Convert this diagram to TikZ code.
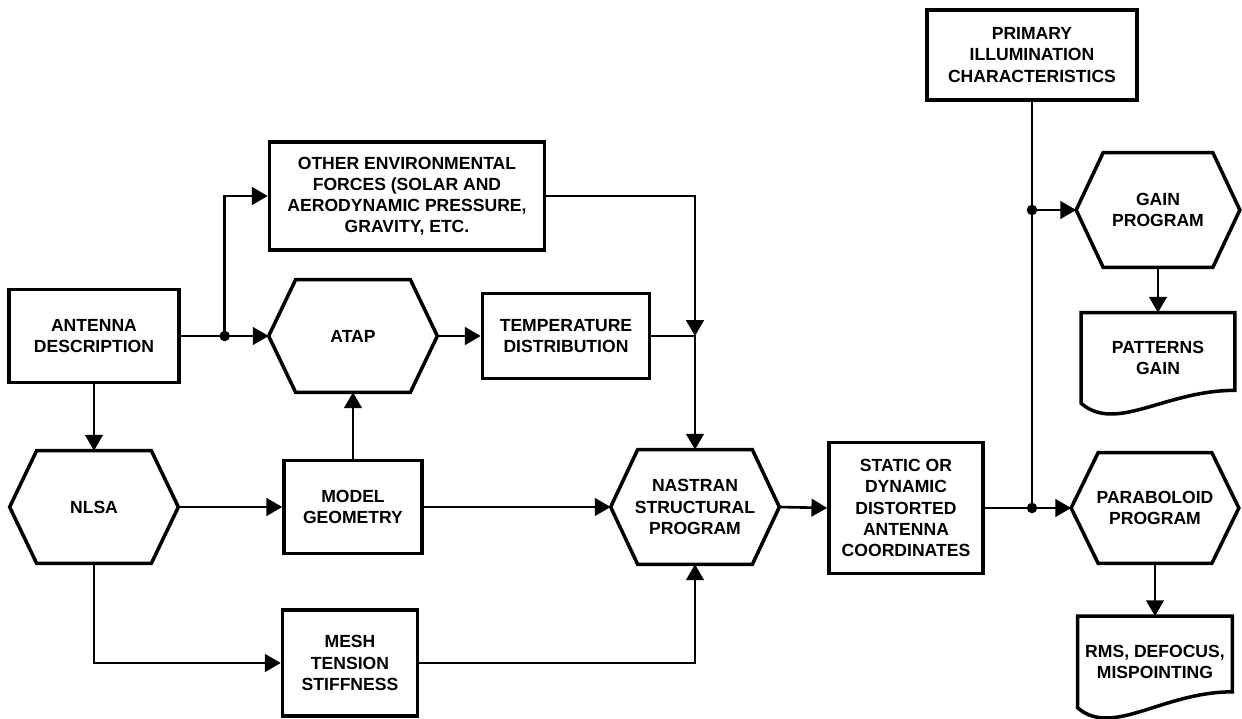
\documentclass[tikz,border=0pt]{standalone}
\usepackage{fontspec}
\setmainfont{Liberation Sans}
\usetikzlibrary{arrows.meta,calc}
\tikzset{>={Triangle[length=9pt,width=10pt]}}
\tikzset{
  sz/.style 2 args={minimum width=#1*0.02cm, minimum height=#2*0.02cm},
  lbl/.style={inner sep=0pt, align=center, font=\bfseries\fontsize{10}{12}\selectfont},
  blk/.style={lbl, draw, line width=2pt},
  hexa/.style={lbl},
  docu/.style={lbl},
  wire/.style={line width=1.5pt}
}

\begin{document}
\begin{tikzpicture}[x=0.02cm,y=-0.02cm]
  \useasboundingbox (0,0) rectangle (1242,719);
  % boxes
  \node[blk,sz={170}{93}] (antenna) at (94,336) {ANTENNA\\DESCRIPTION};
  \node[blk,sz={275}{108}] (other) at (407,196) {OTHER ENVIRONMENTAL\\FORCES (SOLAR AND\\AERODYNAMIC PRESSURE,\\GRAVITY, ETC.};
  \node[blk,sz={167}{85}] (temp) at (566,336) {TEMPERATURE\\DISTRIBUTION};
  \node[blk,sz={138}{93}] (model) at (353,507) {MODEL\\GEOMETRY};
  \node[blk,sz={135}{106}] (mesh) at (350,663) {MESH\\TENSION\\STIFFNESS};
  \node[blk,sz={154}{131}] (static) at (906,508) {STATIC OR\\DYNAMIC\\DISTORTED\\ANTENNA\\COORDINATES};
  \node[blk,sz={210}{90}] (primary) at (1032,55) {PRIMARY\\ILLUMINATION\\CHARACTERISTICS};
  % programs
  \node[hexa,sz={168}{112}] (atap) at (353,336) {ATAP};
  \node[hexa,sz={168}{112}] (nlsa) at (94,507) {NLSA};
  \node[hexa,sz={168}{114}] (nastran) at (695,507) {NASTRAN\\STRUCTURAL\\PROGRAM};
  \node[hexa,sz={163}{114}] (gain) at (1158,210) {GAIN\\PROGRAM};
  \node[hexa,sz={167}{110}] (parab) at (1155,508) {PARABOLOID\\PROGRAM};
  \pgfmathsetmacro{\tip}{27}
  \foreach \n in {atap,nlsa,nastran,gain,parab} {
    \draw[line width=2pt] (\n.west) -- ($(\n.north west)+(\tip,0)$) -- ($(\n.north east)+(-\tip,0)$)
      -- (\n.east) -- ($(\n.south east)+(-\tip,0)$) -- ($(\n.south west)+(\tip,0)$) -- cycle;
  }
  % outputs
  \node[docu,sz={153}{90}] (patterns) at (1158,358) {PATTERNS\\GAIN};
  \node[docu,sz={154}{91}] (rms) at (1155,662) {RMS, DEFOCUS,\\MISPOINTING};
  \foreach \n/\rise in {patterns/13,rms/16} {
    \draw[line width=2pt] (\n.north west) -- (\n.north east) -- ($(\n.south east)+(0,-\rise)$)
      .. controls +(-70,0) and +(35,30) .. (\n.south west) -- cycle;
  }
  % connectors
  \coordinate (s1) at ($(antenna.east)!0.5!(atap.west)$);
  \coordinate (tj) at (nastran.north |- temp.east);
  \coordinate (g1) at (primary.south |- gain.west);
  \coordinate (g2) at (primary.south |- parab.west);
  \draw[wire,->] (antenna.east) -- (atap.west);
  \draw[wire,->] (s1) |- (other.west);
  \draw[wire,->] (atap.east) -- (temp.west);
  \draw[wire,->] (other.east) -| (tj);
  \draw[wire,->] (temp.east) -- (tj) -- (nastran.north);
  \draw[wire,->] (antenna.south) -- (nlsa.north);
  \draw[wire,->] (model.north) -- (atap.south);
  \draw[wire,->] (nlsa.east) -- (model.west);
  \draw[wire,->] (model.east) -- (nastran.west);
  \draw[wire,->] (nlsa.south) |- (mesh.west);
  \draw[wire,->] (mesh.east) -| (nastran.south);
  \draw[wire,->] (nastran.east) -- (static.west);
  \draw[wire] (primary.south) -- (g2);
  \draw[wire,->] (g1) -- (gain.west);
  \draw[wire,->] (static.east) -- (g2) -- (parab.west);
  \draw[wire,->] (gain.south) -- (patterns.north);
  \draw[wire,->] (parab.south) -- (rms.north);
  \foreach \c in {s1,g1,g2} \fill (\c) circle (3pt);
\end{tikzpicture}
\end{document}
